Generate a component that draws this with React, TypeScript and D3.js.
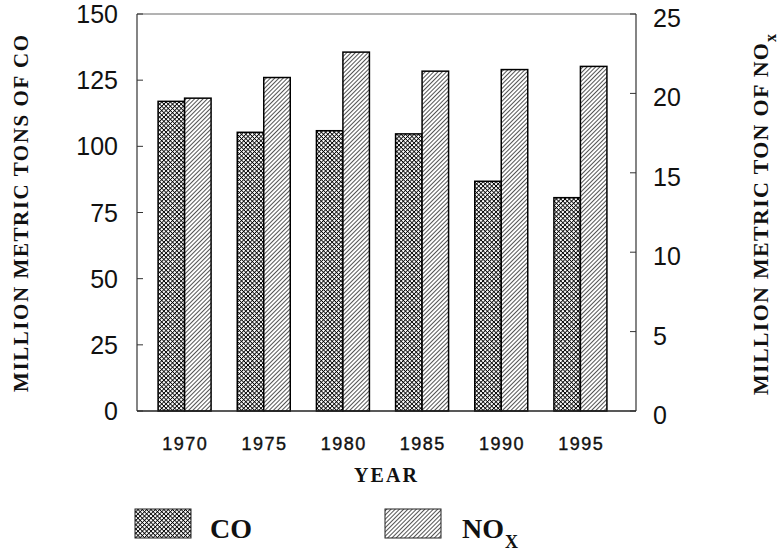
import React from 'react';
import * as d3 from 'd3';

const years = ['1970', '1975', '1980', '1985', '1990', '1995'];
const coValues = [117, 105.3, 105.9, 104.7, 86.8, 80.6];
const noxValues = [19.7, 21.0, 22.6, 21.4, 21.5, 21.7];
const leftTicks = [0, 25, 50, 75, 100, 125, 150];
const rightTicks = [0, 5, 10, 15, 20, 25];

const SANS = '"Liberation Sans", Arial, Helvetica, sans-serif';
const SERIF = '"Liberation Serif", "Times New Roman", serif';

export default function App() {
  const left = 137, right = 636, top = 14, bottom = 411;
  const x = d3.scaleBand<string>().domain(years).range([145, 620]);
  const yL = d3.scaleLinear().domain([0, 150]).range([bottom, top]);
  const yR = d3.scaleLinear().domain([0, 25]).range([bottom, top]);
  const bw = 26.5;
  const cx = (yr: string) => (x(yr) as number) + x.bandwidth() / 2;

  return (
    <svg width={779} height={551} style={{ position: 'absolute', left: 0, top: 0, background: '#fff' }}>
      <defs>
        <pattern id="cross" width={3.05} height={3.05} patternUnits="userSpaceOnUse" patternTransform="rotate(45)">
          <rect width={3.05} height={3.05} fill="#fff" />
          <line x1={0} y1={0} x2={0} y2={3.05} stroke="#000" strokeWidth={1.7} />
          <line x1={0} y1={0} x2={3.05} y2={0} stroke="#000" strokeWidth={1.7} />
        </pattern>
        <pattern id="hatch" width={3.0} height={3.0} patternUnits="userSpaceOnUse" patternTransform="rotate(45)">
          <rect width={3.0} height={3.0} fill="#fff" />
          <line x1={0} y1={0} x2={0} y2={3.0} stroke="#000" strokeWidth={1.35} />
        </pattern>
      </defs>

      {/* frame */}
      <line x1={left} y1={top} x2={right} y2={top} stroke="#666" strokeWidth={1} />
      <line x1={left} y1={top} x2={left} y2={bottom} stroke="#333" strokeWidth={1.2} />
      <line x1={right} y1={top} x2={right} y2={bottom} stroke="#333" strokeWidth={1.2} />

      {/* bars */}
      {years.map((yr, i) => (
        <g key={yr}>
          <rect x={cx(yr) - bw} y={yL(coValues[i])} width={bw} height={bottom - yL(coValues[i])}
            fill="url(#cross)" stroke="#000" strokeWidth={1.5} />
          <rect x={cx(yr)} y={yR(noxValues[i])} width={bw} height={bottom - yR(noxValues[i])}
            fill="url(#hatch)" stroke="#000" strokeWidth={1.5} />
        </g>
      ))}

      <line x1={left} y1={bottom} x2={right} y2={bottom} stroke="#222" strokeWidth={1.5} />

      {/* left axis ticks */}
      {leftTicks.map(t => (
        <g key={'l' + t}>
          <line x1={left} x2={left + 6} y1={yL(t)} y2={yL(t)} stroke="#333" strokeWidth={1} />
          <text x={118} y={yL(t) + 9} textAnchor="end" fontFamily={SANS} fontSize={25} fill="#111">{t}</text>
        </g>
      ))}
      {/* right axis ticks */}
      {rightTicks.map(t => (
        <g key={'r' + t}>
          <line x1={right - 6} x2={right} y1={yR(t)} y2={yR(t)} stroke="#333" strokeWidth={1} />
          <text x={653} y={yR(t) + 13} textAnchor="start" fontFamily={SANS} fontSize={25} fill="#111">{t}</text>
        </g>
      ))}

      {/* x labels */}
      {years.map(yr => (
        <text key={'x' + yr} x={cx(yr) + 0.75} y={450} textAnchor="middle" fontFamily={SANS} fontSize={18}
          letterSpacing={1.5} fill="#111" stroke="#111" strokeWidth={0.4}>{yr}</text>
      ))}
      <text x={385.5} y={481.5} textAnchor="middle" fontFamily={SERIF} fontWeight="bold" fontSize={20}
        textLength={63} lengthAdjust="spacing" fill="#111">YEAR</text>

      {/* left title */}
      <text transform="translate(27.5,213.5) rotate(-90)" textAnchor="middle" fontFamily={SERIF}
        fontWeight="bold" fontSize={21} textLength={357} lengthAdjust="spacing" fill="#111">
        MILLION METRIC TONS OF CO
      </text>
      {/* right title */}
      <text transform="translate(768,395) rotate(-90)" textAnchor="start" fontFamily={SERIF}
        fontWeight="bold" fontSize={22} textLength={352} lengthAdjust="spacing" fill="#111">
        MILLION METRIC TON OF NO
      </text>
      <text transform="translate(776,42) rotate(-90)" textAnchor="start" fontFamily={SERIF}
        fontWeight="bold" fontSize={16} fill="#111">x</text>

      {/* legend */}
      <rect x={135} y={509} width={56} height={29} fill="url(#cross)" stroke="#222" strokeWidth={1} />
      <text x={210} y={538} fontFamily={SERIF} fontWeight="bold" fontSize={28} fill="#111">CO</text>
      <rect x={385} y={509} width={56} height={29} fill="url(#hatch)" stroke="#222" strokeWidth={1} />
      <text x={462} y={538} fontFamily={SERIF} fontWeight="bold" fontSize={28} fill="#111">NO</text>
      <text x={505} y={548} fontFamily={SERIF} fontWeight="bold" fontSize={18} fill="#111">X</text>
    </svg>
  );
}
